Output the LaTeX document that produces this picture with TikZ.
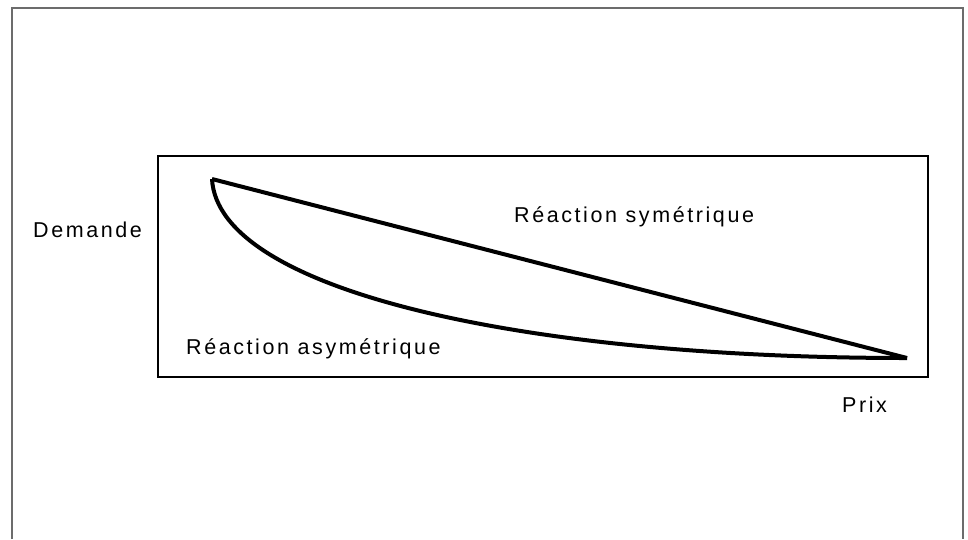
\documentclass[tikz,border=0pt]{standalone}
\usepackage{fontspec}
\setmainfont{Liberation Sans}[LetterSpace=12]
\begin{document}
\begin{tikzpicture}[x=1pt,y=-1pt,
  lbl/.style={anchor=base west,inner sep=0pt,font=\fontsize{21.5}{26}\selectfont},
  curve/.style={line width=4pt,line join=round}]
\useasboundingbox (0,0) rectangle (968,539);
% outer frame, open at the bottom
\draw[gray!85!black,line width=1.6pt] (12,539) -- (12,8) -- (963,8) -- (963,539);
% plot area
\draw[line width=1.8pt] (158,156) rectangle (928,377);
\coordinate (top) at (212,179);
\coordinate (end) at (907,358);
% symmetric reaction: straight line
\draw[curve] (top) -- (end);
% asymmetric reaction: convex curve
\draw[curve] (top) .. controls (218,290) and (520,358) .. (end);
\node[lbl] (dem) at (33,237) {Demande};
\node[lbl] (sym) at (514,222) {Réaction symétrique};
\node[lbl] (asym) at (186,354) {Réaction asymétrique};
\node[lbl] (prix) at (842,412) {Prix};
\end{tikzpicture}
\end{document}
